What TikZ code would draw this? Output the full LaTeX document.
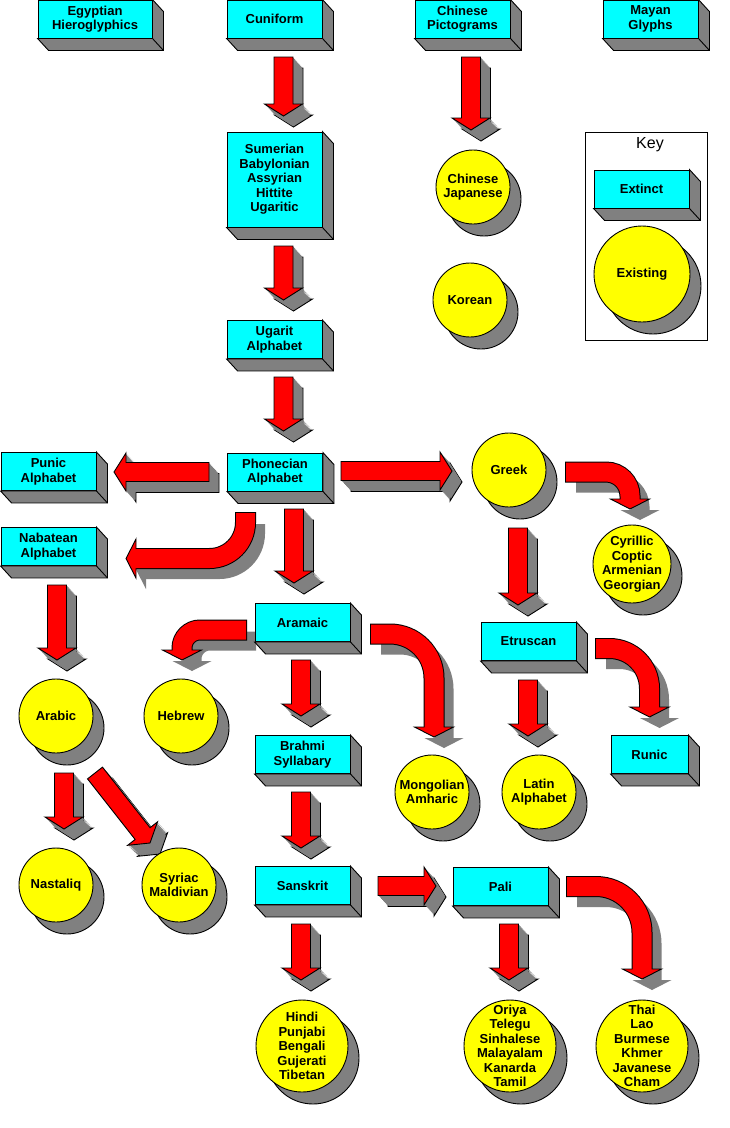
\documentclass[tikz,border=0pt]{standalone}
\usepackage{fontspec}
\setmainfont{Liberation Sans}
\usepackage{xcolor}
\definecolor{boxcyan}{HTML}{00FFFF}
\definecolor{circyellow}{HTML}{FFFF00}
\definecolor{arrowred}{HTML}{FF0000}
\definecolor{depthgray}{HTML}{808080}
\usetikzlibrary{calc, shadows}

\newcommand{\labelfont}{\fontsize{13}{14.5}\selectfont\bfseries}

% outline of a straight block arrow, tail #1, tip #2, shifted by #3
\newcommand{\arrowpoly}[3]{%
  ($(#1)!9.5pt!90:(#2)+(#3)$) -- ($(bn)!9.5pt!-90:(#1)+(#3)$) --
  ($(bn)!19pt!-90:(#1)+(#3)$) -- ($(#2)+(#3)$) --
  ($(bn)!19pt!90:(#1)+(#3)$) -- ($(bn)!9.5pt!90:(#1)+(#3)$) --
  ($(#1)!9.5pt!-90:(#2)+(#3)$) -- cycle}

% straight 3D arrow
\newcommand{\blockarrow}[2]{%
  \coordinate (bn) at ($(#2)!12pt!(#1)$);
  \filldraw[fill=depthgray, draw=black] \arrowpoly{#1}{#2}{10,11};
  \foreach \k in {9,...,1} \fill[depthgray] \arrowpoly{#1}{#2}{\k,1.1*\k};
  \filldraw[fill=arrowred, draw=black] \arrowpoly{#1}{#2}{0,0};
}

% bent arrow with a flat shadow: tail, corner, tip, radius
\newcommand{\bentarrow}[4]{%
  \coordinate (cn) at ($(#3)!10pt!(#2)$);
  \draw[depthgray, line width=19pt, rounded corners=#4, shorten >=-1pt]
    ($(#1)+(10,11)$) -- ($(#2)+(10,11)$) -- ($(cn)+(10,11)$);
  \fill[depthgray] ($(cn)!19.5pt!90:(#2)+(10,11)$) -- ($(#3)+(10,11)$)
    -- ($(cn)!19.5pt!-90:(#2)+(10,11)$) -- cycle;
  \draw[black, line width=21pt, rounded corners=#4, shorten <=-1pt] (#1) -- (#2) -- (cn);
  \filldraw[fill=arrowred, draw=black] ($(cn)!19.5pt!90:(#2)$) -- (#3)
    -- ($(cn)!19.5pt!-90:(#2)$) -- cycle;
  \draw[arrowred, line width=19pt, rounded corners=#4, shorten >=-1pt] (#1) -- (#2) -- (cn);
}

\tikzset{
  extinct/.style={draw, fill=boxcyan, minimum width=95pt, minimum height=38pt,
    inner sep=0pt, align=center, font=\labelfont},
  existing/.style={circle, draw, fill=circyellow, minimum size=74pt,
    inner sep=-15pt, align=center, font=\labelfont,
    drop shadow={shadow xshift=11pt, shadow yshift=-12pt, opacity=1,
      fill=depthgray, draw=black}},
  depth/.style={fill=depthgray, draw=black},
}

\begin{document}
\begin{tikzpicture}[x=1pt, y=-1pt, line width=0.9pt]
  \useasboundingbox (0,0) rectangle (729,1128);

  % arrow ends
  \coordinate (cuni-t) at (283.5,57);   \coordinate (sumer-h) at (283.5,116);
  \coordinate (chpict-t) at (471,57);   \coordinate (chjap-h) at (471,130);
  \coordinate (sumer-t) at (283.5,246); \coordinate (ugarit-h) at (283.5,300);
  \coordinate (ugarit-t) at (283.5,377); \coordinate (phon-h) at (283.5,431);
  \coordinate (punic-t) at (209,472);   \coordinate (punic-h) at (114,472);
  \coordinate (greek-t) at (341,471);   \coordinate (greek-h) at (452,471);
  \coordinate (aram-t) at (294,509);    \coordinate (aram-h) at (294,583);
  \coordinate (arabic-t) at (57,585);   \coordinate (arabic-h) at (57,660);
  \coordinate (etrus-t) at (518,528);   \coordinate (etrus-h) at (518,605);
  \coordinate (brahmi-t) at (301,660);  \coordinate (brahmi-h) at (301,716);
  \coordinate (latin-t) at (528,680);   \coordinate (latin-h) at (528,736);
  \coordinate (sansk-t) at (301,792);   \coordinate (sansk-h) at (301,848);
  \coordinate (nastaliq-t) at (64,773); \coordinate (nastaliq-h) at (64,829);
  \coordinate (syriac-t) at (95,773);   \coordinate (syriac-h) at (150,843);
  \coordinate (pali-t) at (378,886);    \coordinate (pali-h) at (436,886);
  \coordinate (hindi-t) at (301,924);   \coordinate (hindi-h) at (301,980);
  \coordinate (oriya-t) at (509,924);   \coordinate (oriya-h) at (509,980);

  \blockarrow{cuni-t}{sumer-h}
  \blockarrow{chpict-t}{chjap-h}
  \blockarrow{sumer-t}{ugarit-h}
  \blockarrow{ugarit-t}{phon-h}
  \blockarrow{punic-t}{punic-h}
  \blockarrow{greek-t}{greek-h}
  \blockarrow{aram-t}{aram-h}
  \blockarrow{arabic-t}{arabic-h}
  \blockarrow{etrus-t}{etrus-h}
  \blockarrow{brahmi-t}{brahmi-h}
  \blockarrow{latin-t}{latin-h}
  \blockarrow{sansk-t}{sansk-h}
  \blockarrow{nastaliq-t}{nastaliq-h}
  \blockarrow{syriac-t}{syriac-h}
  \blockarrow{pali-t}{pali-h}
  \blockarrow{hindi-t}{hindi-h}
  \blockarrow{oriya-t}{oriya-h}

  % bent arrows
  \coordinate (nabat-t) at (245.5,513); \coordinate (nabat-c) at (245.5,558.5); \coordinate (nabat-h) at (126,558.5);
  \coordinate (hebrew-t) at (246,630);  \coordinate (hebrew-c) at (182,630);    \coordinate (hebrew-h) at (182,660);
  \coordinate (mongol-t) at (371,634);  \coordinate (mongol-c) at (434,634);    \coordinate (mongol-h) at (434,737);
  \coordinate (cyril-t) at (566,472);   \coordinate (cyril-c) at (630,472);     \coordinate (cyril-h) at (630,509);
  \coordinate (runic-t) at (596,648.5); \coordinate (runic-c) at (649.5,648.5); \coordinate (runic-h) at (649.5,717);
  \coordinate (thai-t) at (567,886.5);  \coordinate (thai-c) at (642,886.5);    \coordinate (thai-h) at (642,979);

  \bentarrow{nabat-t}{nabat-c}{nabat-h}{36}
  \bentarrow{hebrew-t}{hebrew-c}{hebrew-h}{18}
  \bentarrow{mongol-t}{mongol-c}{mongol-h}{44}
  \bentarrow{cyril-t}{cyril-c}{cyril-h}{24}
  \bentarrow{runic-t}{runic-c}{runic-h}{40}
  \bentarrow{thai-t}{thai-c}{thai-h}{46}

  % extinct scripts
  \node[extinct, minimum width=114pt] (egypt) at (95,19) {Egyptian\\Hieroglyphics};
  \node[extinct] (cuni) at (274.5,19) {Cuniform};
  \node[extinct] (chpict) at (462.5,19) {Chinese\\Pictograms};
  \node[extinct] (mayan) at (650.5,19) {Mayan\\Glyphs};
  \node[extinct, minimum height=95pt] (sumer) at (274.5,179.5)
    {Sumerian\\Babylonian\\Assyrian\\Hittite\\Ugaritic};
  \node[extinct] (ugarit) at (274.5,339.5) {Ugarit\\Alphabet};
  \node[extinct] (punic) at (48.5,471.5) {Punic\\Alphabet};
  \node[extinct] (phon) at (275,472) {Phonecian\\Alphabet};
  \node[extinct] (nabat) at (48.5,546.5) {Nabatean\\Alphabet};
  \node[extinct] (aram) at (302.5,622.5) {Aramaic};
  \node[extinct] (etrus) at (528.5,641.5) {Etruscan};
  \node[extinct] (brahmi) at (302.5,754.5) {Brahmi\\Syllabary};
  \node[extinct, minimum width=77pt] (runic) at (649.5,754.5) {Runic};
  \node[extinct] (sansk) at (302.5,885.5) {Sanskrit};
  \node[extinct] (pali) at (500.5,886.5) {Pali};

  % existing scripts
  \node[existing] (chjap) at (473,187) {Chinese\\Japanese};
  \node[existing] (korean) at (470,300) {Korean};
  \node[existing] (greek) at (509,470) {Greek};
  \node[existing, minimum size=78pt] (cyril) at (632,564)
    {Cyrillic\\Coptic\\Armenian\\Georgian};
  \node[existing] (arabic) at (56,716) {Arabic};
  \node[existing] (hebrew) at (181,716) {Hebrew};
  \node[existing] (mongol) at (432,792) {Mongolian\\Amharic};
  \node[existing] (latin) at (539,792) {Latin\\Alphabet};
  \node[existing] (nastaliq) at (56,885) {Nastaliq};
  \node[existing] (syriac) at (179,885) {Syriac\\Maldivian};
  \node[existing, minimum size=92pt] (hindi) at (302,1046)
    {Hindi\\Punjabi\\Bengali\\Gujerati\\Tibetan};
  \node[existing, minimum size=92pt] (oriya) at (510,1046)
    {Oriya\\Telegu\\Sinhalese\\Malayalam\\Kanarda\\Tamil};
  \node[existing, minimum size=92pt] (thai) at (642,1046)
    {Thai\\Lao\\Burmese\\Khmer\\Javanese\\Cham};

  % key
  \node[draw, minimum width=122pt, minimum height=208pt] (keyframe) at (646,236) {};
  \node[font=\fontsize{16}{19}\selectfont] (keytitle) at (650,145) {Key};
  \node[extinct] (extinctkey) at (641.5,189) {Extinct};
  \node[existing, minimum size=96pt] (existkey) at (642,274) {Existing};

  % depth of the boxes
  \foreach \n in {egypt,cuni,chpict,mayan,sumer,ugarit,punic,phon,nabat,aram,
                  etrus,brahmi,runic,sansk,pali,extinctkey} {
    \filldraw[depth] (\n.north east) -- ($(\n.north east)+(11,12)$)
      -- ($(\n.south east)+(11,12)$) -- ($(\n.south west)+(11,12)$)
      -- (\n.south west) -- (\n.south east) -- cycle;
    \draw (\n.south east) -- ($(\n.south east)+(11,12)$);
  }
\end{tikzpicture}
\end{document}
